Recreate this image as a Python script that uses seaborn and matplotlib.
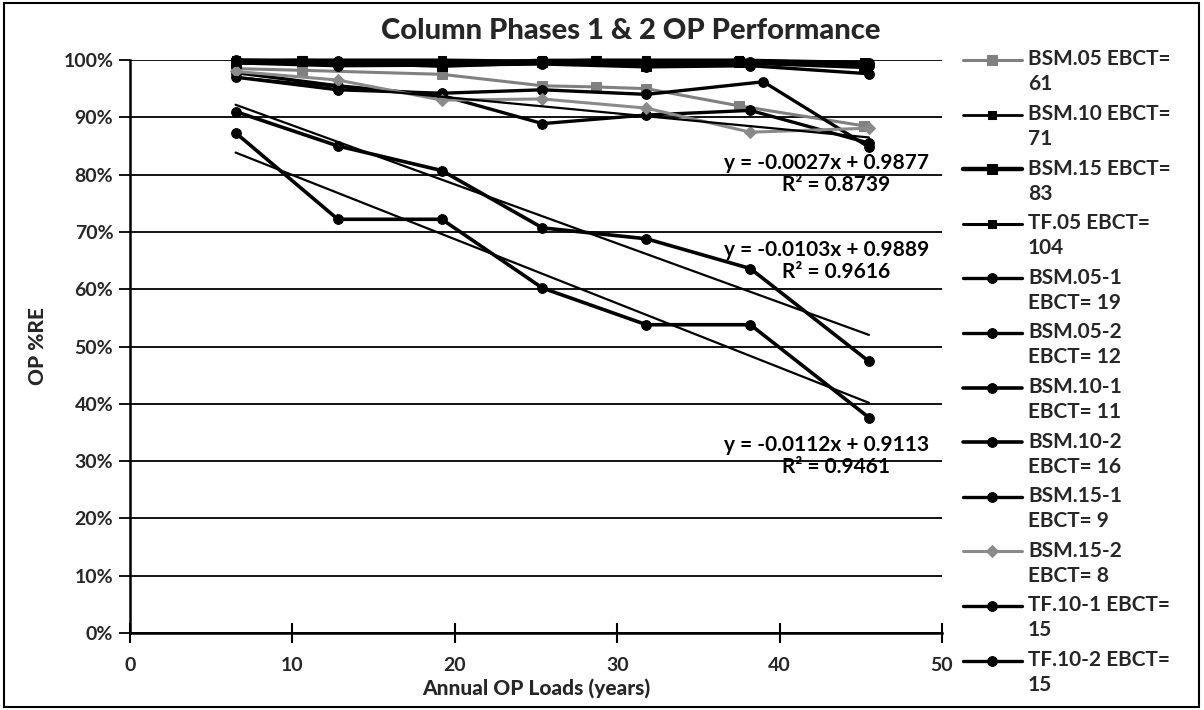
import numpy as np
import pandas as pd
import matplotlib
matplotlib.use("Agg")
import matplotlib.pyplot as plt
import seaborn as sns
from matplotlib.ticker import PercentFormatter, MultipleLocator
from matplotlib.patches import Rectangle
from matplotlib.legend_handler import HandlerLine2D

# ---------------- data ----------------
x_phase1 = [6.5, 10.6, 19.2, 25.4, 28.7, 31.8, 37.5, 45.2]
x_phase2 = [6.5, 12.8, 19.2, 25.4, 31.8, 38.2, 45.5]
x_bsm05_1 = [6.5, 12.8, 19.2, 25.4, 31.8, 39.0, 45.5]

bsm05_ebct61 = [98.5, 98.2, 97.5, 95.5, 95.3, 95.0, 92.0, 88.5]
bsm10_ebct71 = [100.0, 100.0, 99.5, 100.0, 100.0, 99.5, 100.0, 99.4]
bsm15_ebct83 = [99.5, 99.8, 99.0, 99.6, 99.8, 99.0, 99.6, 98.8]
tf05_ebct104 = [99.8, 100.0, 100.0, 99.8, 100.0, 100.0, 100.0, 99.6]
bsm05_1 = [97.0, 94.8, 94.2, 94.8, 94.0, 96.2, 84.8]
bsm05_2 = [97.8, 95.5, 93.8, 88.9, 90.4, 91.2, 85.5]
bsm10_1 = [91.0, 85.0, 80.7, 70.7, 68.8, 63.6, 47.4]
bsm10_2 = [87.3, 72.2, 72.2, 60.2, 53.8, 53.8, 37.6]
bsm15_1 = [99.5, 99.0, 99.1, 99.3, 98.8, 99.0, 97.6]
bsm15_2 = [98.0, 96.5, 93.0, 93.2, 91.6, 87.4, 88.1]
tf10_1 = [99.8, 99.5, 99.4, 99.5, 99.3, 99.5, 99.0]
tf10_2 = [100.0, 99.8, 99.7, 99.8, 99.6, 99.7, 99.4]

legend_labels = ["BSM.05 EBCT=\n61", "BSM.10 EBCT=\n71", "BSM.15 EBCT=\n83",
                 "TF.05 EBCT=\n104", "BSM.05-1\nEBCT= 19", "BSM.05-2\nEBCT= 12",
                 "BSM.10-1\nEBCT= 11", "BSM.10-2\nEBCT= 16", "BSM.15-1\nEBCT= 9",
                 "BSM.15-2\nEBCT= 8", "TF.10-1 EBCT=\n15", "TF.10-2 EBCT=\n15"]

trend_slopes = [-0.0027, -0.0103, -0.0112]
trend_intercepts = [0.9877, 0.9889, 0.9113]
trend_r2 = [0.8739, 0.9616, 0.9461]
trend_x_range = [6.5, 45.5]

x_ticks = [0, 10, 20, 30, 40, 50]

# ---------------- style ----------------
sns.set_theme(style="white")
plt.rcParams["font.family"] = ["Lato", "DejaVu Sans"]

fig = plt.figure(figsize=(12.04, 7.10), dpi=100)
ax = fig.add_axes([130 / 1204, 1 - 633 / 710, (942 - 130) / 1204, (633 - 60) / 710])

series = [
    (x_phase1, bsm05_ebct61, "#808080", "s", 2.2, 7),
    (x_phase1, bsm10_ebct71, "black", "s", 2.0, 6),
    (x_phase1, bsm15_ebct83, "black", "s", 3.2, 7),
    (x_phase1, tf05_ebct104, "black", "s", 2.2, 6),
    (x_bsm05_1, bsm05_1, "black", "o", 2.4, 7),
    (x_phase2, bsm05_2, "black", "o", 2.4, 7),
    (x_phase2, bsm10_1, "black", "o", 2.6, 7),
    (x_phase2, bsm10_2, "black", "o", 2.6, 7),
    (x_phase2, bsm15_1, "black", "o", 2.4, 7),
    (x_phase2, bsm15_2, "#8a8a8a", "D", 2.2, 6),
    (x_phase2, tf10_1, "black", "o", 2.4, 7),
    (x_phase2, tf10_2, "black", "o", 2.4, 7),
]

handles = []
for (xs, ys, col, mk, lw, ms), lab in zip(series, legend_labels):
    n_before = len(ax.lines)
    sns.lineplot(x=xs, y=ys, ax=ax, color=col, marker=mk, markersize=ms,
                 linewidth=lw, markeredgecolor=col, clip_on=False, legend=False)
    handles.append(ax.lines[n_before])

# trendlines
tx = np.array(trend_x_range)
for s, b in zip(trend_slopes, trend_intercepts):
    sns.lineplot(x=tx, y=(s * tx + b) * 100, ax=ax, color="black",
                 linewidth=1.6, legend=False)

# trendline labels
label_pos = [(42.9, 82.0, 78.2), (42.9, 66.8, 63.0), (42.9, 32.8, 29.0)]
for (s, b, r), (lx, ly1, ly2) in zip(zip(trend_slopes, trend_intercepts, trend_r2), label_pos):
    ax.text(lx, ly1, f"y = {s:.4f}x + {b:.4f}", ha="center", va="center",
            fontsize=15, fontweight="bold", color="black")
    ax.text(lx + 0.6, ly2, f"R\u00b2 = {r:.4f}", ha="center", va="center",
            fontsize=15, fontweight="bold", color="black")

# axes
ax.set_xlim(0, 50)
ax.set_ylim(0, 100)
ax.set_xticks(x_ticks)
ax.yaxis.set_major_locator(MultipleLocator(10))
ax.yaxis.set_major_formatter(PercentFormatter(100, decimals=0))
ax.grid(axis="y", color="black", linewidth=1.3)
ax.grid(axis="x", visible=False)
ax.set_axisbelow(True)
for side in ["top", "right"]:
    ax.spines[side].set_visible(False)
ax.spines["left"].set_color("black")
ax.spines["left"].set_linewidth(1.8)
ax.spines["bottom"].set_color("black")
ax.spines["bottom"].set_linewidth(1.8)
ax.tick_params(axis="y", direction="out", length=8, width=1.3, color="black",
               labelsize=14, pad=4, left=True)
ax.tick_params(axis="x", direction="inout", length=14, width=1.5, color="black",
               labelsize=14, pad=10, bottom=True)
for lab in ax.get_xticklabels() + ax.get_yticklabels():
    lab.set_fontweight("bold")

ax.set_xlabel("Annual OP Loads (years)", fontsize=15, fontweight=900, labelpad=3)
ax.set_ylabel("OP %RE", fontsize=15, fontweight=900, labelpad=12)
fig.text(631 / 1204, 1 - 31 / 710, "Column Phases 1 & 2 OP Performance",
         ha="center", va="center", fontsize=21, fontweight=900)


class FirstLineHandler(HandlerLine2D):
    """Place the legend key level with the first line of a two-line label."""
    def create_artists(self, legend, orig_handle, xdescent, ydescent, width,
                       height, fontsize, trans):
        artists = super().create_artists(legend, orig_handle, xdescent, ydescent,
                                         width, height, fontsize, trans)
        for a in artists:
            a.set_ydata(np.asarray(a.get_ydata(), dtype=float) + 0.6 * fontsize)
        return artists


leg = fig.legend(handles, legend_labels, loc="upper left",
                 bbox_to_anchor=(955 / 1204, 1 - 41 / 710), frameon=False,
                 prop={"size": 15, "weight": "bold"}, handlelength=2.8,
                 handletextpad=0.3, labelspacing=0.455, borderaxespad=0,
                 handler_map={h: FirstLineHandler() for h in handles})
for t in leg.get_texts():
    t.set_linespacing(1.32)

fig.patches.append(Rectangle((0.003, 0.004), 0.993, 0.992, transform=fig.transFigure,
                             fill=False, edgecolor="black", linewidth=1.5))

fig.savefig("out.png", dpi=100, facecolor="white")
